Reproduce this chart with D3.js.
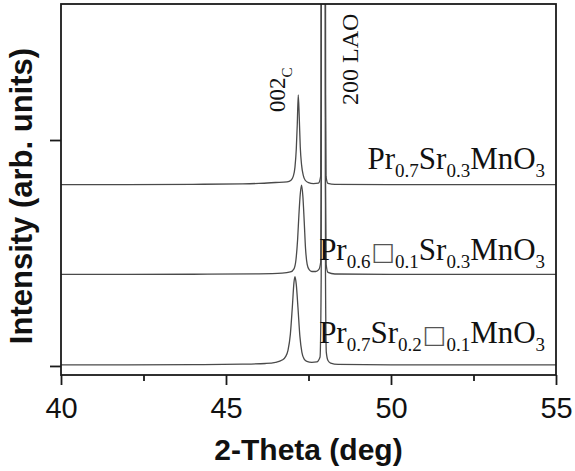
<!DOCTYPE html>
<html>
<head>
<meta charset="utf-8">
<script src="https://cdn.jsdelivr.net/npm/d3@7"></script>
<style>
  body { margin: 0; background: #fff; }
  svg { display: block; }
</style>
</head>
<body>
<div id="chart"></div>
<script>
// XRD theta-2theta scans around the (002)c film peak and the 200 LAO substrate peak.
// Intensities are relative to each trace's own baseline; traces are stacked by offset.
const xTicks = [40, 45, 50, 55];
const xMinor = [42.5, 47.5, 52.5];
const yTicks = [0, 100];
const offsets = [80, 40, 0];

// Pr0.7Sr0.3MnO3 (top)
const scanPSMO = [
  [40, 0.3], [42, 0.3], [44, 0.4], [45.5, 0.6], [46, 0.8], [46.5, 1.2], [46.85, 1.5], [46.97, 2.2],
  [47.04, 4], [47.09, 8], [47.13, 16], [47.16, 27], [47.19, 40], [47.22, 30], [47.25, 17],
  [47.29, 9], [47.34, 4.5], [47.4, 2.2], [47.5, 1.1], [47.65, 0.7], [47.8, 0.9], [47.87, 4],
  [47.885, 40], [47.895, 400], [47.95, 2500], [48.005, 400], [48.015, 40], [48.03, 4],
  [48.09, 0.8], [48.3, 0.4], [50, 0.3], [52, 0.3], [55, 0.3]
];
// Pr0.6[]0.1Sr0.3MnO3 (middle)
const scanPVSMO = [
  [40, 0.5], [42, 0.5], [44, 0.6], [46, 0.8], [46.7, 1.1], [46.95, 1.6], [47.06, 3],
  [47.12, 7], [47.17, 16], [47.21, 27], [47.25, 36], [47.29, 40], [47.33, 35], [47.37, 24],
  [47.41, 12], [47.46, 5], [47.52, 2.6], [47.6, 1.8], [47.72, 1.8], [47.81, 2.6], [47.87, 6],
  [47.885, 40], [47.895, 400], [47.95, 2500], [48.005, 400], [48.015, 40], [48.035, 5],
  [48.09, 1.4], [48.3, 0.7], [50, 0.5], [52, 0.5], [55, 0.5]
];
// Pr0.7Sr0.2[]0.1MnO3 (bottom)
const scanPSVMO = [
  [40, 0.5], [42, 0.5], [44, 0.6], [45.5, 0.8], [46.2, 1.1], [46.5, 1.6], [46.7, 2.6],
  [46.8, 4], [46.88, 7], [46.95, 14], [47.01, 26], [47.06, 37], [47.09, 39.5], [47.13, 36],
  [47.18, 26], [47.24, 13], [47.3, 6], [47.37, 3], [47.45, 2], [47.6, 1.6], [47.75, 1.8],
  [47.85, 4], [47.885, 40], [47.895, 400], [47.95, 2500], [48.005, 400], [48.015, 40],
  [48.04, 6], [48.09, 2.4], [48.17, 1.3], [48.4, 0.7], [50, 0.5], [52, 0.5], [55, 0.5]
];
const scans = [scanPSMO, scanPVSMO, scanPSVMO];

// Sample labels as [text, kind] runs: "n" normal, "s" subscript, "b" vacancy box.
const labelParts = [
  [["Pr", "n"], ["0.7", "s"], ["Sr", "n"], ["0.3", "s"], ["MnO", "n"], ["3", "s"]],
  [["Pr", "n"], ["0.6", "s"], ["\u25A1", "b"], ["0.1", "s"], ["Sr", "n"], ["0.3", "s"], ["MnO", "n"], ["3", "s"]],
  [["Pr", "n"], ["0.7", "s"], ["Sr", "n"], ["0.2", "s"], ["\u25A1", "b"], ["0.1", "s"], ["MnO", "n"], ["3", "s"]]
];
const labelLevel = [87, 47, 10];

const width = 575, height = 471;
const m = { top: 4, right: 19, bottom: 96, left: 61 };
const iW = width - m.left - m.right, iH = height - m.top - m.bottom;

const x = d3.scaleLinear([40, 55], [0, iW]);
const y = d3.scaleLinear([-4, 160.2], [iH, 0]);

const svg = d3.select("#chart").append("svg")
  .attr("width", width).attr("height", height)
  .attr("viewBox", `0 0 ${width} ${height}`);
const g = svg.append("g").attr("transform", `translate(${m.left},${m.top})`);

svg.append("defs").append("clipPath").attr("id", "plot-clip")
  .append("rect").attr("width", iW).attr("height", iH);

// Traces
const line = d3.line().curve(d3.curveMonotoneX);
const traces = g.append("g").attr("clip-path", "url(#plot-clip)");
scans.forEach((scan, i) => {
  traces.append("path")
    .attr("d", line(scan.map(([t, v]) => [x(t), y(v + offsets[i])])))
    .attr("fill", "none").attr("stroke", "#4a4a4a").attr("stroke-width", 1.3)
    .attr("stroke-linejoin", "round");
});

// Frame
g.append("rect").attr("width", iW).attr("height", iH)
  .attr("fill", "none").attr("stroke", "#1a1a1a").attr("stroke-width", 1.8);

// X axis: major ticks with labels, minor ticks without
const xAxis = g.append("g").attr("transform", `translate(0,${iH})`)
  .call(d3.axisBottom(x).tickValues(xTicks).tickSize(10).tickSizeOuter(0).tickPadding(12).tickFormat(d3.format("d")));
g.append("g").attr("transform", `translate(0,${iH})`)
  .call(d3.axisBottom(x).tickValues(xMinor).tickSize(6).tickSizeOuter(0).tickFormat(""))
  .call((a) => a.select(".domain").remove());
xAxis.select(".domain").remove();
g.selectAll(".tick line").attr("stroke", "#1a1a1a").attr("stroke-width", 1.8);
xAxis.selectAll(".tick text")
  .attr("font-family", "Liberation Sans, Arial, sans-serif").attr("font-size", 29).attr("fill", "#111");

// Y axis: unlabeled ticks
g.append("g")
  .call(d3.axisLeft(y).tickValues(yTicks).tickSize(11).tickSizeOuter(0).tickFormat(""))
  .call((a) => a.select(".domain").remove())
  .selectAll(".tick line").attr("stroke", "#1a1a1a").attr("stroke-width", 1.8);

// Axis titles
svg.append("text")
  .attr("x", m.left + iW / 2).attr("y", 460).attr("text-anchor", "middle")
  .attr("font-family", "Liberation Sans, Arial, sans-serif").attr("font-weight", "bold")
  .attr("font-size", 30).attr("fill", "#111").text("2-Theta (deg)");
svg.append("text")
  .attr("transform", "translate(32,196) rotate(-90)").attr("text-anchor", "middle")
  .attr("font-family", "Liberation Sans, Arial, sans-serif").attr("font-weight", "bold")
  .attr("font-size", 31).attr("fill", "#111").text("Intensity (arb. units)");

// Peak annotations (rotated)
const serif = "Liberation Serif, Times New Roman, serif";
const a002 = g.append("text")
  .attr("transform", `translate(${x(46.79)},${y(112.4)}) rotate(-90)`)
  .attr("font-family", serif).attr("font-size", 23).attr("fill", "#111");
a002.append("tspan").text("002");
a002.append("tspan").attr("font-size", 15).attr("dy", 7).text("C");

g.append("text")
  .attr("transform", `translate(${x(49.0)},${y(115.5)}) rotate(-90)`)
  .attr("font-family", serif).attr("font-size", 24).attr("fill", "#111").text("200 LAO");

// Sample labels, right aligned
labelParts.forEach((parts, i) => {
  const t = g.append("text")
    .attr("x", x(54.67)).attr("y", y(labelLevel[i]))
    .attr("text-anchor", "end")
    .attr("font-family", serif).attr("font-size", 31).attr("fill", "#111");
  let shift = 0, prevBox = false;
  parts.forEach(([s, kind]) => {
    const want = kind === "s" ? 8 : 0;
    const ts = t.append("tspan").attr("dy", want - shift).text(s);
    shift = want;
    if (kind === "s") ts.attr("font-size", 19);
    if (kind === "b") ts.attr("dx", 1).attr("font-family", "DejaVu Sans, sans-serif").attr("font-size", 25).attr("fill", "#555");
    if (prevBox) ts.attr("dx", 0);
    prevBox = kind === "b";
  });
});
</script>
</body>
</html>
